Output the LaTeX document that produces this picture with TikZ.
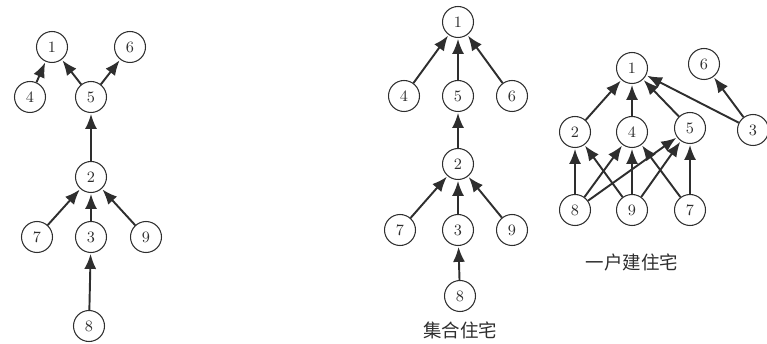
\documentclass[tikz,border=0pt]{standalone}
\usepackage{fontspec}
\usepackage{tikz}
\usetikzlibrary{arrows.meta}
\newfontfamily\cjk{Noto Sans CJK SC}
\definecolor{lnGray}{HTML}{2E2E2E}

\tikzset{
  hnode/.style={draw=lnGray, circle, line width=0.6pt, minimum size=0.62cm,
    inner sep=0pt, font=\small, text=lnGray},
  harrow/.style={draw=lnGray, line width=1.1pt,
    -{Latex[length=3mm,width=2.4mm]}, shorten >=0.5pt},
  hcap/.style={font=\cjk\fontsize{10.5}{12}\selectfont, text=lnGray}
}

\begin{document}
\begin{tikzpicture}[x=0.02cm, y=-0.02cm]
  % page size
  \useasboundingbox (0,0) rectangle (767,344);

  % left tree
  \node[hnode] (a1) at (52,47) {1};
  \node[hnode] (a6) at (130,47) {6};
  \node[hnode] (a4) at (30,97) {4};
  \node[hnode] (a5) at (91,97) {5};
  \node[hnode] (a2) at (91,177) {2};
  \node[hnode] (a7) at (37,237) {7};
  \node[hnode] (a3) at (91,237) {3};
  \node[hnode] (a9) at (146,237) {9};
  \node[hnode] (a8) at (89,326) {8};
  \foreach \s/\t in {a4/a1, a5/a1, a5/a6, a2/a5, a7/a2, a3/a2, a9/a2, a8/a3}{
    \draw[harrow] (\s) -- (\t);
  }

  % middle tree
  \node[hnode] (b1) at (458,22) {1};
  \node[hnode] (b4) at (404,96) {4};
  \node[hnode] (b5) at (458,96) {5};
  \node[hnode] (b6) at (512,96) {6};
  \node[hnode] (b2) at (458,164) {2};
  \node[hnode] (b7) at (400,230) {7};
  \node[hnode] (b3) at (458,230) {3};
  \node[hnode] (b9) at (512,230) {9};
  \node[hnode] (b8) at (460,296) {8};
  \foreach \s/\t in {b4/b1, b5/b1, b6/b1, b2/b5, b7/b2, b3/b2, b9/b2, b8/b3}{
    \draw[harrow] (\s) -- (\t);
  }
  \node[hcap] (bcap) at (460,330) {集合住宅};

  % right graph
  \node[hnode] (c1) at (632,68) {1};
  \node[hnode] (c6) at (704,64) {6};
  \node[hnode] (c2) at (575,132) {2};
  \node[hnode] (c4) at (632,132) {4};
  \node[hnode] (c5) at (690,128) {5};
  \node[hnode] (c3) at (753,130) {3};
  \node[hnode] (c8) at (575,210) {8};
  \node[hnode] (c9) at (632,210) {9};
  \node[hnode] (c7) at (690,210) {7};
  \foreach \s/\t in {c2/c1, c4/c1, c5/c1, c3/c1, c3/c6,
                     c8/c2, c8/c4, c8/c5, c9/c2, c9/c4, c9/c5, c7/c4, c7/c5}{
    \draw[harrow] (\s) -- (\t);
  }
  \node[hcap] (ccap) at (632,262) {一户建住宅};
\end{tikzpicture}
\end{document}
